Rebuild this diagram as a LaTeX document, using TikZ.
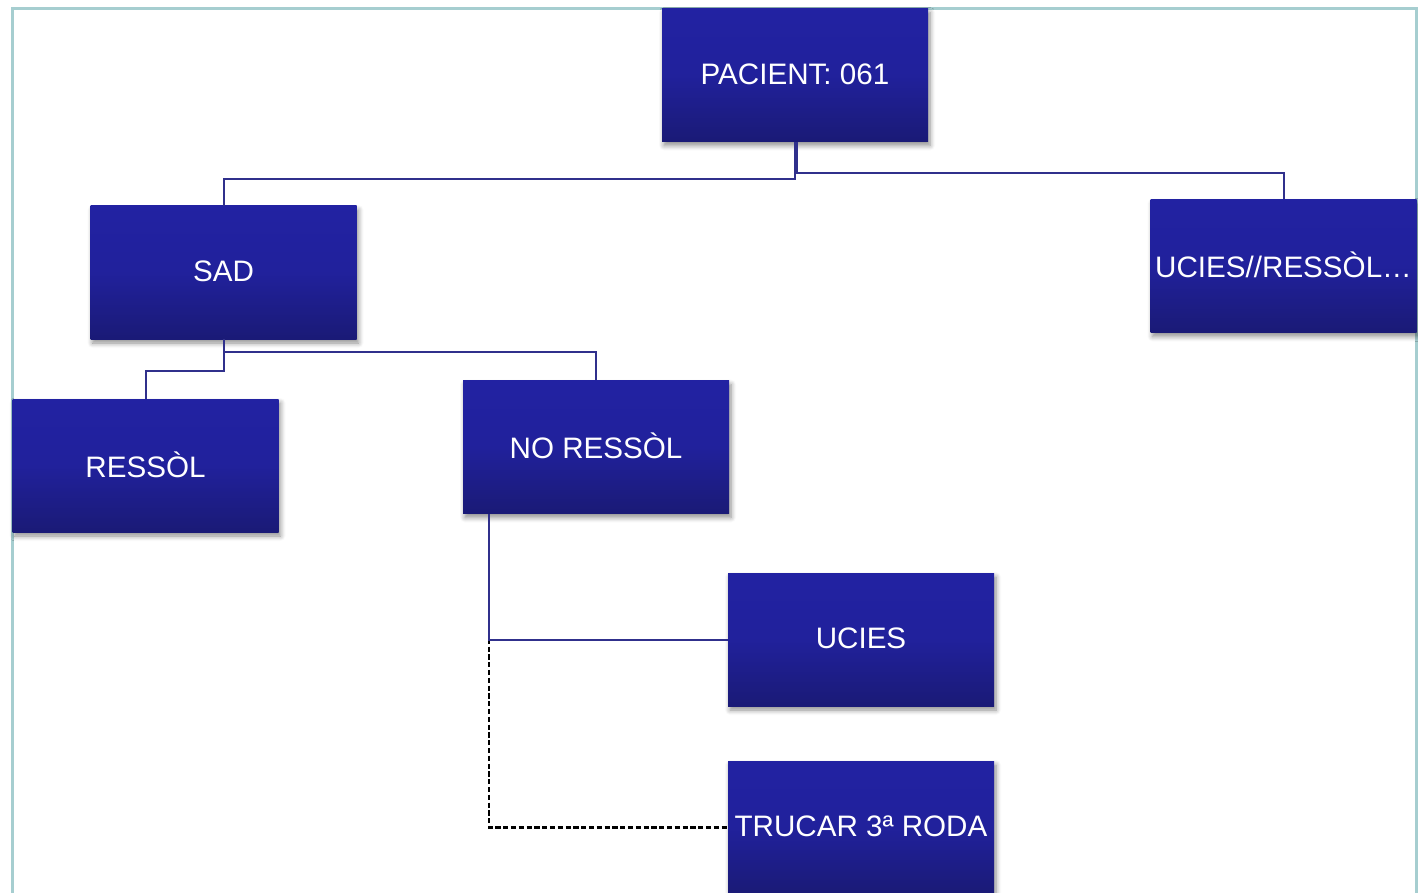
\documentclass[tikz,border=0pt]{standalone}
\usepackage{fontspec}
\setmainfont{Liberation Sans}
\usetikzlibrary{shadows.blur,calc}
\definecolor{boxtop}{RGB}{34,34,162}
\definecolor{boxbot}{RGB}{26,26,118}
\definecolor{linkc}{RGB}{48,48,140}
\definecolor{framec}{RGB}{166,206,208}
\tikzset{
  box/.style={rectangle, minimum width=133pt, minimum height=66.5pt, inner sep=0pt,
    top color=boxtop, bottom color=boxbot, middle color=boxtop!85!boxbot,
    text=white, font=\fontsize{14.8pt}{17pt}\selectfont,
    blur shadow={shadow xshift=1pt, shadow yshift=-2pt, shadow blur steps=6, shadow opacity=45, shadow blur radius=2.5pt}},
  link/.style={draw=linkc, line width=1pt},
  dlink/.style={draw=black, line width=1.1pt, dash pattern=on 2.6pt off 1.3pt}
}
\begin{document}
\begin{tikzpicture}[x=0.5pt,y=-0.5pt]
\useasboundingbox (0,0) rectangle (1418,893);
\clip (0,0) rectangle (1418,893);
\draw[framec, line width=1.2pt] (12.5,900) -- (12.5,8.5) -- (1416.5,8.5) -- (1416.5,900);
\node[box] (pac) at (795,75) {\raisebox{1pt}{PACIENT: 061}};
\node[box] (sad) at (223.5,272.5) {\raisebox{1pt}{SAD}};
\node[box] (ur) at (1283.5,266) {\raisebox{1pt}{UCIES//RESSÒL…}};
\node[box] (res) at (145.5,465.5) {\raisebox{1pt}{RESSÒL}};
\node[box] (nr) at (596,447) {\raisebox{1pt}{NO RESSÒL}};
\node[box] (uc) at (861,639.5) {\raisebox{1pt}{UCIES}};
\node[box] (tr) at (861,827.5) {\raisebox{1pt}{TRUCAR 3ª RODA}};
\coordinate (nrs) at ($(nr.south west)+(26.5,0)$);
\draw[link] (pac.south) -- ++(0,37) -| (sad.north);
\draw[link] ($(pac.south)+(1.5,0)$) -- ++(0,31) -| (ur.north);
\draw[link] (sad.south) -- ++(0,32) -| (res.north);
\draw[link] (sad.south) -- ++(0,13) -| (nr.north);
\draw[dlink] (nrs) |- (tr.west);
\draw[link] (nrs) |- (uc.west);
\end{tikzpicture}
\end{document}
